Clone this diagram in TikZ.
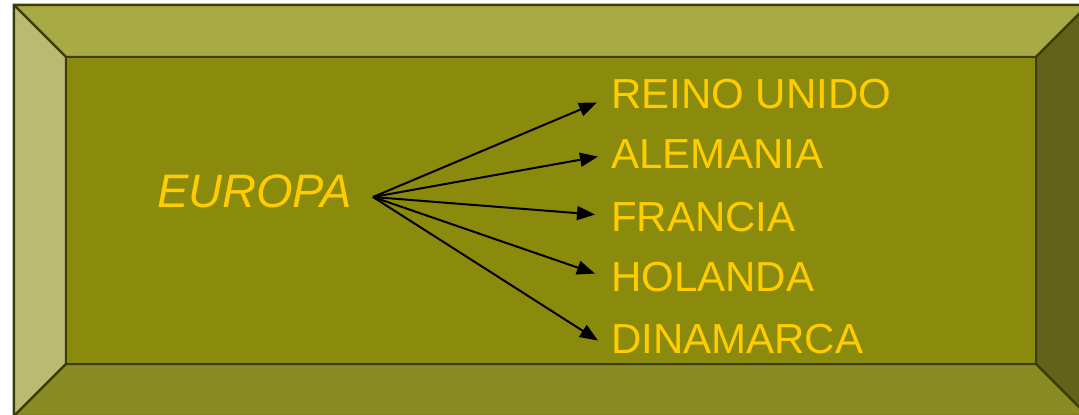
\documentclass[tikz,border=0pt]{standalone}
\usepackage{fontspec}
\setmainfont{Liberation Sans}
\usepackage{tikz}
\usetikzlibrary{arrows.meta}
\definecolor{bevtop}{HTML}{A8AA44}
\definecolor{bevleft}{HTML}{B9BB72}
\definecolor{bevright}{HTML}{62621C}
\definecolor{bevbottom}{HTML}{8B8B24}
\definecolor{panel}{HTML}{8A8A0C}
\definecolor{edge}{HTML}{3C3C06}
\definecolor{gold}{HTML}{FFCC00}
\tikzstyle{bevel} = [draw=edge, line width=2.2pt, line join=round]
\tikzstyle{land} = [text=gold, inner sep=0pt, anchor=base west, font=\fontsize{42}{48}\selectfont]
\tikzstyle{arr} = [-{Triangle[length=18pt,width=14pt]}, line width=2pt, black]

\begin{document}
\begin{tikzpicture}[x=1pt, y=-1pt]

        \useasboundingbox (0,0) rectangle (1079,415);
        \clip (0,0) rectangle (1079,415);

        %% marco biselado

        \fill[white] (0,0) rectangle (1079,415);
        \draw[gray!40, line width=1pt] (12.5,3.5) rectangle (1090,418);
        \filldraw[bevel, fill=bevtop] (14,5) -- (1088,5) -- (1036,57) -- (66,57) -- cycle;
        \filldraw[bevel, fill=bevleft] (14,5) -- (66,57) -- (66,364) -- (14,416) -- cycle;
        \filldraw[bevel, fill=bevright] (1088,5) -- (1036,57) -- (1036,364) -- (1088,416) -- cycle;
        \filldraw[bevel, fill=bevbottom] (14,416) -- (66,364) -- (1036,364) -- (1088,416) -- cycle;
        \filldraw[bevel, fill=panel] (66,57) rectangle (1036,364);

        %% textos

        \node (europa) [land, font=\fontsize{47}{52}\selectfont\itshape] at (157,207) {EUROPA};
        \coordinate (hub) at (373,197);

        \node (reino) [land] at (611,108) {REINO UNIDO};
        \node (alemania) [land] at (611,168) {ALEMANIA};
        \node (francia) [land] at (611,231) {FRANCIA};
        \node (holanda) [land] at (611,291) {HOLANDA};
        \node (dinamarca) [land] at (611,353) {DINAMARCA};

        %% flechas

        \draw[arr] (hub) -- ([xshift=-14pt, yshift=-9pt]reino.west);
        \draw[arr] (hub) -- ([xshift=-13pt, yshift=-3pt]alemania.west);
        \draw[arr] (hub) -- ([xshift=-16pt, yshift=2pt]francia.west);
        \draw[arr] (hub) -- ([xshift=-16pt, yshift=3pt]holanda.west);
        \draw[arr] (hub) -- ([xshift=-13pt, yshift=-2pt]dinamarca.west);

    \end{tikzpicture}
\end{document}
